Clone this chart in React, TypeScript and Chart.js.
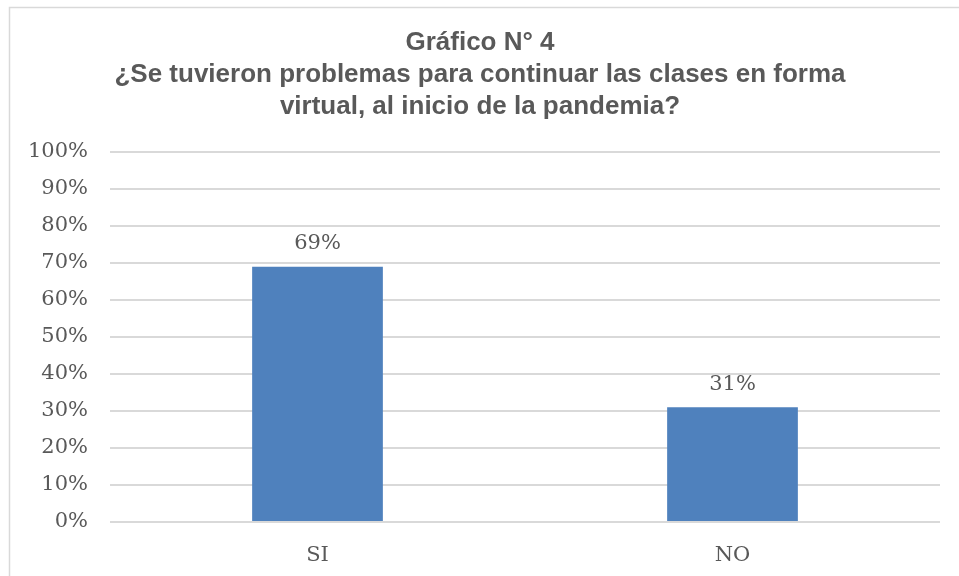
import React, { useEffect, useRef } from "react";
import { Chart, registerables } from "chart.js";

Chart.register(...registerables);

const categories = ["SI", "NO"];
const values = [69, 31];
const titleLines = [
  "Gráfico N° 4",
  "¿Se tuvieron problemas para continuar las clases en forma",
  "virtual, al inicio de la pandemia?",
];

const TEXT = "#595959";
const SERIF = "'DejaVu Serif', serif";
const SANS = "'Liberation Sans', Arial, sans-serif";

export default function App() {
  const ref = useRef<HTMLCanvasElement | null>(null);
  useEffect(() => {
    document.body.style.margin = "0";
    const decor = {
      id: "decor",
      beforeDraw(chart: any) {
        const ctx = chart.ctx;
        ctx.save();
        ctx.fillStyle = "#fff";
        ctx.fillRect(0, 0, chart.width, chart.height);
        ctx.strokeStyle = "#D9D9D9";
        ctx.lineWidth = 1.5;
        ctx.strokeRect(9.5, 7.5, chart.width + 20, chart.height + 20);
        ctx.restore();
      },
      afterDraw(chart: any) {
        const ctx = chart.ctx;
        ctx.save();
        ctx.fillStyle = TEXT;
        ctx.textAlign = "center";
        ctx.textBaseline = "middle";
        ctx.font = `bold 26px ${SANS}`;
        titleLines.forEach((t, i) => ctx.fillText(t, 480, 43 + i * 32));
        ctx.font = `21px ${SERIF}`;
        const meta = chart.getDatasetMeta(0);
        meta.data.forEach((bar: any, i: number) => {
          ctx.fillText(values[i] + "%", bar.x, bar.y - 23);
        });
        ctx.restore();
      },
    };
    const chart = new Chart(ref.current!, {
      type: "bar",
      data: {
        labels: categories,
        datasets: [
          {
            data: values,
            backgroundColor: "#4F81BD",
            categoryPercentage: 1,
            barPercentage: 0.315,
          },
        ],
      },
      options: {
        animation: false,
        responsive: false,
        layout: { padding: { top: 152, left: 0, right: 19, bottom: 0 } },
        plugins: { legend: { display: false }, title: { display: false }, tooltip: { enabled: false } },
        scales: {
          x: {
            grid: { display: false },
            border: { display: false },
            ticks: { color: TEXT, font: { family: SERIF, size: 21 }, padding: 13 },
            afterFit: (s: any) => { s.height = 54; },
          },
          y: {
            min: 0,
            max: 100,
            ticks: {
              stepSize: 10,
              color: TEXT,
              font: { family: SERIF, size: 21 },
              padding: 22,
              callback: (v: any) => v + "%",
            },
            grid: { color: "#D9D9D9", lineWidth: 2, drawTicks: false },
            border: { display: false },
            afterFit: (s: any) => { s.width = 110; },
          },
        },
      },
      plugins: [decor],
    });
    return () => chart.destroy();
  }, []);
  return (
    <div style={{ width: 959, height: 576 }}>
      <canvas ref={ref} width={959} height={576} />
    </div>
  );
}
